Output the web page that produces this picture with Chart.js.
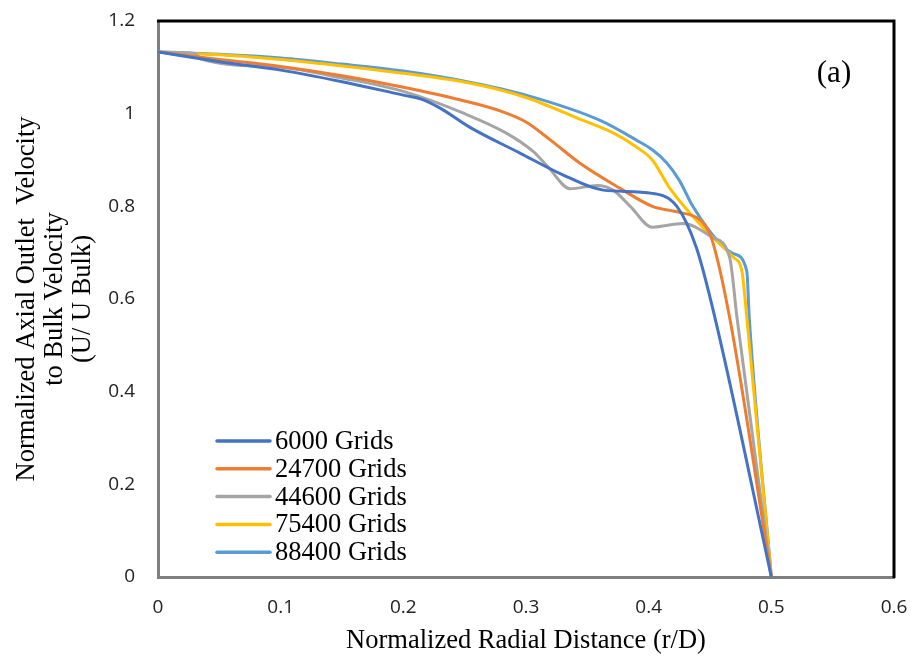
<!DOCTYPE html>
<html lang="en">
<head>
  <meta charset="UTF-8" />
  <title>Normalized axial outlet velocity vs radial distance</title>
  <script src="https://cdn.jsdelivr.net/npm/chart.js"></script>
  <style>
    body { margin: 0; background: #fff; }
    #wrap { width: 915px; height: 661px; }
  </style>
</head>
<body>
  <div id="wrap">
    <canvas id="velChart" width="915" height="661"></canvas>
  </div>

  <script>
    // series labels + colours (Excel default palette)
    const seriesNames = ["6000 Grids", "24700 Grids", "44600 Grids", "75400 Grids", "88400 Grids"];
    const seriesColors = ["#4472C4", "#ED7D31", "#A5A5A5", "#FFC000", "#5B9BD5"];

    // values (r/D, U/Ubulk)
    const x6000  = [0, 0.05, 0.1, 0.15, 0.2, 0.214, 0.23, 0.254, 0.295, 0.33, 0.363, 0.403, 0.423, 0.439, 0.454, 0.5];
    const y6000  = [1.133, 1.112, 1.094, 1.069, 1.04, 1.032, 1.012, 0.971, 0.915, 0.868, 0.835, 0.828, 0.80, 0.71, 0.56, 0];

    const x24700 = [0, 0.05, 0.1, 0.15, 0.2, 0.246, 0.28, 0.3, 0.32, 0.344, 0.376, 0.403, 0.425, 0.442, 0.451, 0.466, 0.5];
    const y24700 = [1.133, 1.117, 1.102, 1.082, 1.057, 1.03, 1.005, 0.982, 0.943, 0.893, 0.84, 0.80, 0.787, 0.77, 0.733, 0.56, 0];

    const x44600 = [0, 0.03, 0.035, 0.1, 0.15, 0.2, 0.25, 0.284, 0.306, 0.318, 0.336, 0.358, 0.371, 0.385, 0.403, 0.428, 0.452, 0.466, 0.472, 0.5];
    const y44600 = [1.133, 1.13, 1.118, 1.1, 1.077, 1.048, 1.0, 0.958, 0.918, 0.885, 0.838, 0.845, 0.835, 0.80, 0.755, 0.763, 0.733, 0.69, 0.56, 0];

    const x75400 = [0, 0.05, 0.1, 0.15, 0.2, 0.254, 0.3, 0.346, 0.37, 0.39, 0.403, 0.417, 0.444, 0.469, 0.476, 0.48, 0.5];
    const y75400 = [1.133, 1.127, 1.117, 1.103, 1.087, 1.066, 1.035, 0.986, 0.96, 0.928, 0.9, 0.84, 0.755, 0.69, 0.66, 0.56, 0];

    const x88400 = [0, 0.05, 0.1, 0.15, 0.2, 0.254, 0.3, 0.36, 0.39, 0.403, 0.415, 0.425, 0.436, 0.458, 0.469, 0.48, 0.482, 0.5];
    const y88400 = [1.133, 1.128, 1.12, 1.107, 1.092, 1.068, 1.04, 0.986, 0.943, 0.922, 0.893, 0.856, 0.80, 0.72, 0.698, 0.66, 0.56, 0];

    const xTickStep = 0.1;
    const yTickStep = 0.2;

    const serif = "'Liberation Serif', 'Times New Roman', serif";
    const sans = "'Open Sans', sans-serif";

    function toPoints(xs, ys) {
      return xs.map((x, i) => ({ x: x, y: ys[i] }));
    }

    // Excel style: 1 not 1.0
    function fmtTick(v) {
      return String(Number(v.toFixed(1)));
    }

    const allX = [x6000, x24700, x44600, x75400, x88400];
    const allY = [y6000, y24700, y44600, y75400, y88400];

    const datasets = seriesNames.map((name, i) => ({
      label: name,
      data: toPoints(allX[i], allY[i]),
      borderColor: seriesColors[i],
      backgroundColor: seriesColors[i],
      borderWidth: 3,
      pointRadius: 0,
      cubicInterpolationMode: "monotone",
      fill: false
    }));

    // top/right black frame, inside legend and the "(a)" tag
    const framePlugin = {
      id: "frameAndLegend",
      afterDraw(chart) {
        const { ctx, chartArea: a } = chart;
        ctx.save();
        ctx.strokeStyle = "#000";
        ctx.lineWidth = 3;
        ctx.beginPath();
        ctx.moveTo(a.left - 1, a.top);
        ctx.lineTo(a.right, a.top);
        ctx.lineTo(a.right, a.bottom + 1);
        ctx.stroke();

        // legend
        const lx = a.left + 59, ly = a.top + 420, rowH = 27.8;
        ctx.font = "26.5px " + serif;
        ctx.textBaseline = "middle";
        ctx.textAlign = "left";
        seriesNames.forEach((name, i) => {
          const y = ly + i * rowH;
          ctx.strokeStyle = seriesColors[i];
          ctx.lineWidth = 3.5;
          ctx.lineCap = "round";
          ctx.beginPath();
          ctx.moveTo(lx, y);
          ctx.lineTo(lx + 53, y);
          ctx.stroke();
          ctx.fillStyle = "#000";
          ctx.fillText(name, lx + 58, y + 1);
        });

        ctx.font = "31px " + serif;
        ctx.textAlign = "center";
        ctx.fillText("(a)", 834, 74);
        ctx.restore();
      }
    };

    new Chart(document.getElementById("velChart"), {
      type: "line",
      data: { datasets },
      plugins: [framePlugin],
      options: {
        responsive: false,
        animation: false,
        layout: { padding: { top: 21, right: 21, bottom: 0, left: 0 } },
        plugins: {
          legend: { display: false },
          tooltip: { enabled: false }
        },
        scales: {
          x: {
            type: "linear",
            min: 0,
            max: 0.6,
            grid: { display: false, drawTicks: false },
            border: { display: true, color: "#7f7f7f", width: 3 },
            ticks: {
              stepSize: xTickStep,
              color: "#222",
              padding: 19,
              font: { family: sans, size: 19 },
              maxRotation: 0,
              callback: fmtTick
            },
            title: {
              display: true,
              text: "Normalized Radial Distance (r/D)",
              color: "#000",
              font: { family: serif, size: 26.5, lineHeight: 1.05 },
              padding: { top: 0, bottom: 6 }
            },
            afterFit(scale) {
              scale.height = 84;
              scale.paddingLeft = 0;
              scale.paddingRight = 0;
            }
          },
          y: {
            min: 0,
            max: 1.2,
            grid: { display: false, drawTicks: false },
            border: { display: true, color: "#7f7f7f", width: 3 },
            ticks: {
              stepSize: yTickStep,
              color: "#222",
              padding: 23,
              font: { family: sans, size: 19 },
              callback: fmtTick
            },
            title: {
              display: true,
              text: ["Normalized Axial Outlet  Velocity", "to Bulk Velocity", "(U/ U Bulk)"],
              color: "#000",
              font: { family: serif, size: 26.5, lineHeight: 1.05 },
              padding: { top: 13, bottom: 0 }
            },
            afterFit(scale) {
              scale.width = 158;
              scale.paddingTop = 0;
              scale.paddingBottom = 0;
            }
          }
        }
      }
    });
  </script>
</body>
</html>
